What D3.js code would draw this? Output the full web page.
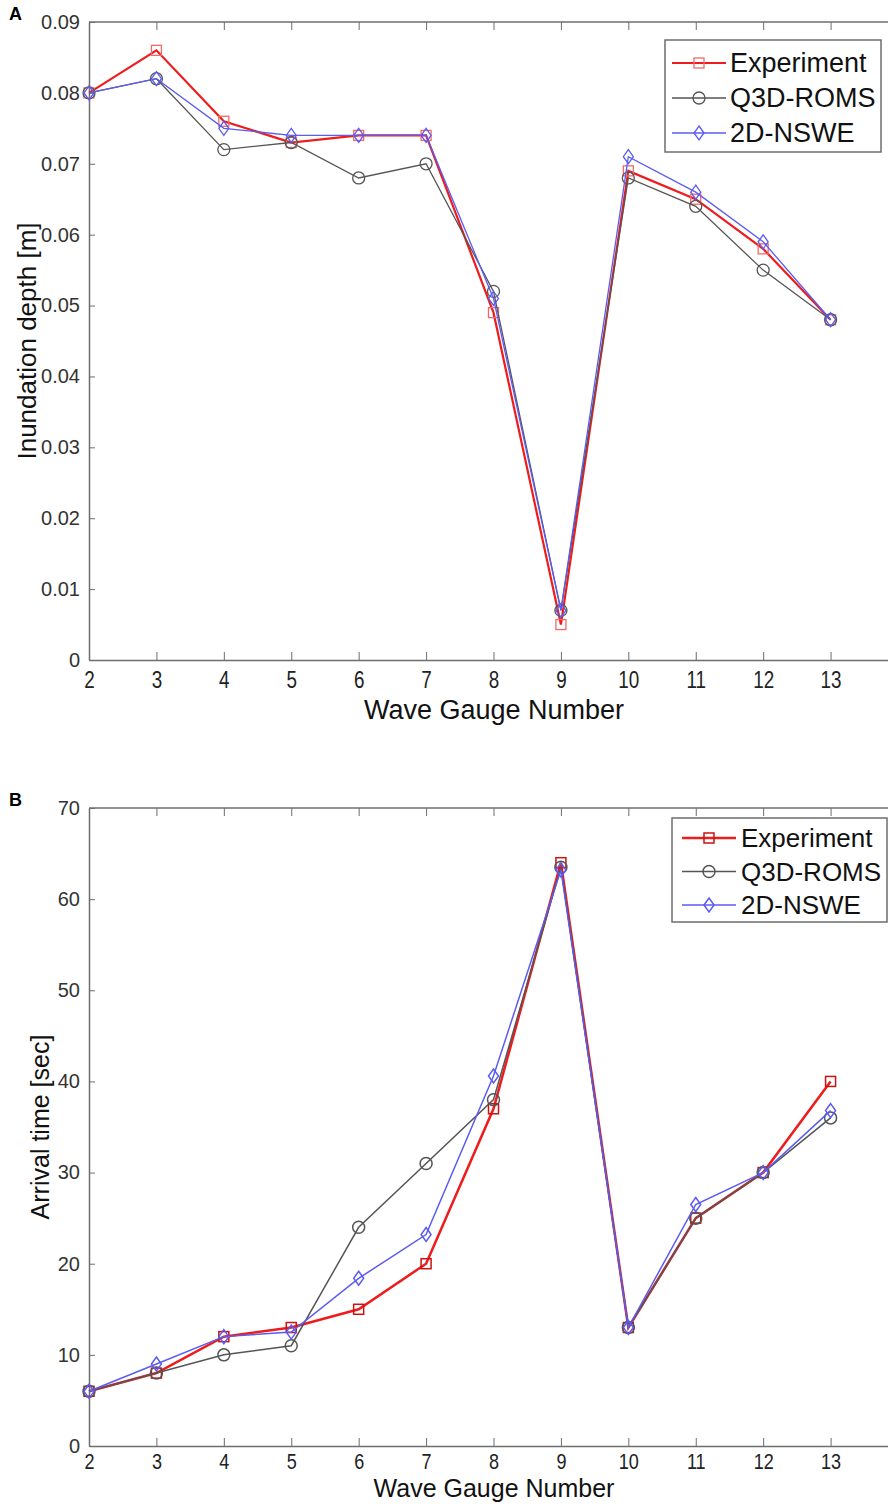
<!DOCTYPE html>
<html>
<head>
<meta charset="utf-8">
<script src="https://cdn.jsdelivr.net/npm/d3@7"></script>
<style>
  body { margin: 0; background: #fff; }
  svg { display: block; font-family: "Liberation Sans", Arial, sans-serif; }
</style>
</head>
<body>
<svg id="chart" width="888" height="1504"></svg>
<script>
// gauges on the x axis
const gauges = [2, 3, 4, 5, 6, 7, 8, 9, 10, 11, 12, 13];
const seriesNames = ['Experiment', 'Q3D-ROMS', '2D-NSWE'];

// panel A: inundation depth [m]
const depthExperiment = [0.080, 0.086, 0.076, 0.073, 0.074, 0.074, 0.049, 0.005, 0.069, 0.065, 0.058, 0.048];
const depthQ3D        = [0.080, 0.082, 0.072, 0.073, 0.068, 0.070, 0.052, 0.007, 0.068, 0.064, 0.055, 0.048];
const depth2D         = [0.080, 0.082, 0.075, 0.074, 0.074, 0.074, 0.051, 0.007, 0.071, 0.066, 0.059, 0.048];
const depthTicks = [0, 0.01, 0.02, 0.03, 0.04, 0.05, 0.06, 0.07, 0.08, 0.09];

// panel B: arrival time [sec]
const timeExperiment = [6, 8, 12, 13, 15, 20, 37, 64, 13, 25, 30, 40];
const timeQ3D        = [6, 8, 10, 11, 24, 31, 38, 63.5, 13, 25, 30, 36];
const time2D         = [6, 9, 12, 12.5, 18.4, 23.2, 40.6, 63.2, 13, 26.5, 30, 36.8];
const timeTicks = [0, 10, 20, 30, 40, 50, 60, 70];

const svg = d3.select('#chart');
const axisColor = '#6e6e6e';

const styles = [
  { color: '#ee1c1c', width: 2.2, marker: 'square' },
  { color: '#555555', width: 1.3, marker: 'circle' },
  { color: '#5b5bf2', width: 1.3, marker: 'diamond' }
];

function marker(g, type, x, y, color, sw) {
  if (type === 'square') {
    g.append('rect').attr('x', x - 5).attr('y', y - 5).attr('width', 10).attr('height', 10)
      .attr('fill', 'none').attr('stroke', color).attr('stroke-width', sw);
  } else if (type === 'circle') {
    g.append('circle').attr('cx', x).attr('cy', y).attr('r', 6)
      .attr('fill', 'none').attr('stroke', color).attr('stroke-width', sw);
  } else {
    g.append('path').attr('d', `M${x},${y - 7}L${x + 5},${y}L${x},${y + 7}L${x - 5},${y}Z`)
      .attr('fill', 'none').attr('stroke', color).attr('stroke-width', sw);
  }
}

function drawPanel(p) {
  const x = d3.scaleLinear().domain([2, 14]).range([89, 898]);
  const y = d3.scaleLinear().domain([p.ticks[0], p.ticks[p.ticks.length - 1]]).range([p.bottom, p.top]);
  const g = svg.append('g');

  // frame
  g.append('line').attr('x1', 89).attr('x2', 888).attr('y1', p.top).attr('y2', p.top)
    .attr('stroke', axisColor).attr('stroke-width', 1.5);

  const xAxis = g.append('g').attr('transform', `translate(0,${p.bottom})`)
    .call(d3.axisBottom(x).tickValues(gauges).tickSizeInner(-8).tickSizeOuter(0).tickPadding(p.xpad).tickFormat(d3.format('d')));
  xAxis.select('.domain').attr('stroke', axisColor).attr('stroke-width', 1.5);
  xAxis.selectAll('.tick line').attr('stroke', axisColor);
  xAxis.selectAll('text').attr('font-size', p.xtickFs).attr('fill', '#222')
    .attr('transform', 'scale(0.82,1)');

  const topTicks = g.append('g').attr('transform', `translate(0,${p.top})`)
    .call(d3.axisTop(x).tickValues(gauges.slice(1)).tickSizeInner(-8).tickSizeOuter(0).tickFormat(''));
  topTicks.select('.domain').remove();
  topTicks.selectAll('.tick line').attr('stroke', axisColor);

  const yAxis = g.append('g').attr('transform', 'translate(89,0)')
    .call(d3.axisLeft(y).tickValues(p.ticks).tickSizeInner(-6).tickSizeOuter(0).tickPadding(9).tickFormat(p.fmt));
  yAxis.select('.domain').attr('stroke', axisColor).attr('stroke-width', 1.5);
  yAxis.selectAll('.tick line').attr('stroke', axisColor);
  yAxis.selectAll('text').attr('font-size', 20).attr('fill', '#333');

  // labels
  g.append('text').attr('x', 494).attr('y', p.bottom + p.xlabelDy).attr('text-anchor', 'middle')
    .attr('font-size', p.labelFs).attr('fill', '#111').text('Wave Gauge Number');
  g.append('text').attr('transform', `translate(${p.ylabelX},${(p.top + p.bottom) / 2}) rotate(-90)`)
    .attr('text-anchor', 'middle').attr('font-size', p.ylabelFs).attr('fill', '#111').text(p.ylabel);
  g.append('text').attr('x', 9).attr('y', p.top - 2).attr('font-size', 18).attr('font-weight', 'bold')
    .attr('fill', '#000').text(p.letter);

  // series
  p.series.forEach((vals, i) => {
    const s = styles[i];
    const line = d3.line().x((d, k) => x(gauges[k])).y(d => y(d));
    g.append('path').datum(vals).attr('d', line).attr('fill', 'none')
      .attr('stroke', s.color).attr('stroke-width', s.width * p.lw);
    const mg = g.append('g');
    vals.forEach((v, k) => marker(mg, s.marker, x(gauges[k]), y(v), i === 0 ? p.expMarker : s.color, 1.3 * p.lw));
  });

  // legend
  const L = p.legend;
  g.append('rect').attr('x', L.x).attr('y', L.y).attr('width', L.w).attr('height', L.h)
    .attr('fill', '#fff').attr('stroke', axisColor).attr('stroke-width', 1.5);
  seriesNames.forEach((name, i) => {
    const s = styles[i];
    const ry = L.y + L.first + i * L.step;
    g.append('line').attr('x1', L.x + L.l1).attr('x2', L.x + L.l2).attr('y1', ry).attr('y2', ry)
      .attr('stroke', s.color).attr('stroke-width', s.width * p.lw);
    marker(g, s.marker, L.x + (L.l1 + L.l2) / 2, ry, i === 0 ? p.expMarker : s.color, 1.3 * p.lw);
    g.append('text').attr('x', L.x + L.tx).attr('y', ry + 9).attr('font-size', L.fs).attr('fill', '#111').text(name);
  });
}

drawPanel({
  letter: 'A', top: 22, bottom: 660, ticks: depthTicks, fmt: d => d === 0 ? '0' : d3.format('.2f')(d),
  xpad: 12, xtickFs: 23, xlabelDy: 59, labelFs: 27, ylabel: 'Inundation depth [m]', ylabelX: 36, ylabelFs: 26,
  lw: 1, expMarker: '#f06a6a',
  series: [depthExperiment, depthQ3D, depth2D],
  legend: { x: 665, y: 40, w: 216, h: 112, first: 23, step: 35, fs: 27, l1: 7, l2: 61, tx: 65 }
});

drawPanel({
  letter: 'B', top: 808, bottom: 1446, ticks: timeTicks, fmt: d3.format('d'),
  xpad: 7, xtickFs: 22, xlabelDy: 51, labelFs: 25, ylabel: 'Arrival time [sec]', ylabelX: 49, ylabelFs: 25,
  lw: 1.15, expMarker: '#cc1111',
  series: [timeExperiment, timeQ3D, time2D],
  legend: { x: 672, y: 818, w: 215, h: 104, first: 20, step: 33.5, fs: 26, l1: 10, l2: 64, tx: 69 }
});
</script>
</body>
</html>
